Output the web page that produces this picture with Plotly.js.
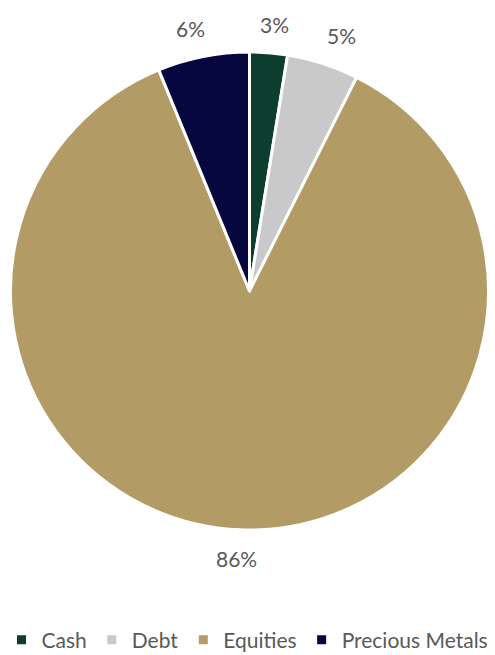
<!DOCTYPE html>
<html>
<head>
<meta charset="utf-8">
<script src="https://cdn.plot.ly/plotly-3.0.1.min.js"></script>
<style>html,body{margin:0;padding:0;background:#fff;}#chart{width:495px;height:655px;}</style>
</head>
<body>
<div id="chart"></div>
<script>
// ---- data ----
const categories = ["Cash", "Debt", "Equities", "Precious Metals"];
const values = [2.55, 4.85, 86.4, 6.2];
const colors = ["#0c3d2f", "#c9c9c9", "#b39b65", "#07073f"];

// ---- geometry (pixels) ----
const W = 495, H = 655;
const CX = 249.5, CY = 291, R = 239;
const LABEL_GAP = 18;
const FONT = "Lato, 'Open Sans', sans-serif";
const LABEL_SIZE = 21;

const trace = {
  type: "pie",
  labels: categories,
  values: values,
  sort: false,
  direction: "clockwise",
  rotation: 0,
  marker: {colors: colors, line: {color: "#ffffff", width: 3}},
  textinfo: "none",
  hoverinfo: "label+percent",
  domain: {
    x: [(CX - R) / W, (CX + R) / W],
    y: [1 - (CY + R) / H, 1 - (CY - R) / H]
  }
};

// percentage labels placed outside each slice, derived from the values
const total = values.reduce((a, b) => a + b, 0);
const clamp = t => Math.max(-1, Math.min(1, t));
const annotations = [];
let cum = 0;
values.forEach((v, i) => {
  const mid = (cum + v / 2) / total * 2 * Math.PI;
  cum += v;
  const ux = Math.sin(mid), uy = -Math.cos(mid);
  const txt = Math.round(v / total * 100) + "%";
  const hw = txt.length * LABEL_SIZE * 0.3, hh = LABEL_SIZE * 0.5;
  const px = CX + (R + LABEL_GAP) * ux + hw * clamp(ux * 4);
  const py = CY + (R + LABEL_GAP) * uy + hh * clamp(uy * 4);
  annotations.push({
    xref: "paper", yref: "paper",
    x: px / W, y: 1 - py / H,
    xanchor: "center", yanchor: "middle",
    text: txt, showarrow: false,
    font: {family: FONT, size: LABEL_SIZE, color: "#595959"}
  });
});

const layout = {
  width: W,
  height: H,
  margin: {l: 0, r: 0, t: 0, b: 0, autoexpand: false},
  paper_bgcolor: "#ffffff",
  showlegend: true,
  annotations: annotations,
  legend: {
    orientation: "h",
    x: 0.5, xanchor: "center",
    y: 1 - 640 / H, yanchor: "middle",
    font: {family: FONT, size: 21, color: "#595959"},
    itemwidth: 30,
    traceorder: "normal"
  }
};

Plotly.newPlot("chart", [trace], layout, {displayModeBar: false, staticPlot: true});
</script>
</body>
</html>
